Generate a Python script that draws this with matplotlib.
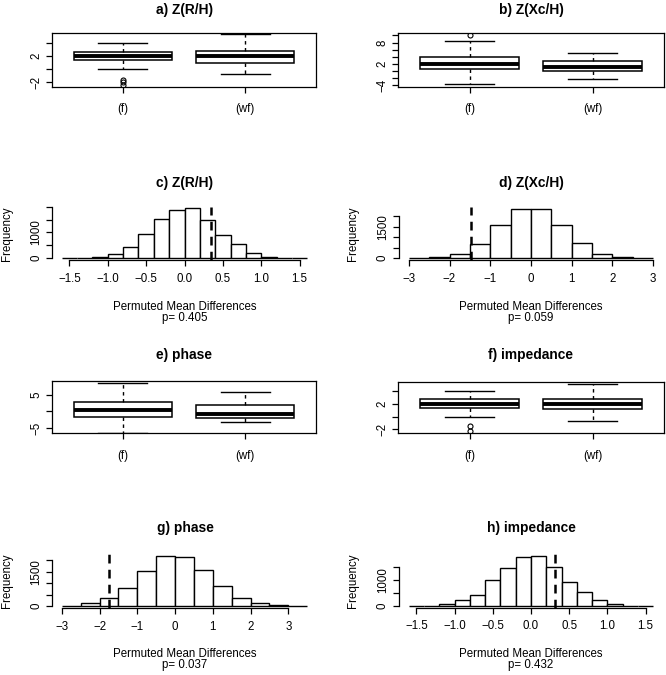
import matplotlib
matplotlib.use('Agg')
import matplotlib.pyplot as plt

plt.rcParams['font.family'] = ['Liberation Sans', 'DejaVu Sans']

W, H = 666, 675
DPI = 100
fig = plt.figure(figsize=(W / DPI, H / DPI), dpi=DPI)

# ---------------- data ----------------
groups = ['(f)', '(wf)']

# box statistics: [lower whisker, Q1, median, Q3, upper whisker]
a_f = [0.0, 1.45, 2.0, 2.6, 3.95]
a_f_out = [-1.6, -1.9, -2.4]
a_wf = [-0.67, 0.97, 2.0, 2.77, 5.35]
a_wf_out = []

b_f = [-3.7, 0.5, 1.9, 3.9, 8.5]
b_f_out = [10.1]
b_wf = [-2.3, 0.0, 1.25, 2.75, 5.2]
b_wf_out = []

e_f = [-6.4, -1.6, 0.4, 2.8, 8.6]
e_f_out = []
e_wf = [-3.3, -2.0, -0.9, 2.0, 5.9]
e_wf_out = []

f_f = [0.0, 1.34, 2.0, 2.76, 4.0]
f_f_out = [-1.5, -2.35]
f_wf = [-0.68, 1.14, 1.95, 2.76, 5.2]
f_wf_out = []

# permutation histograms
c_breaks = [-1.6, -1.4, -1.2, -1.0, -0.8, -0.6, -0.4, -0.2, 0.0, 0.2, 0.4, 0.6, 0.8, 1.0, 1.2, 1.4, 1.6]
c_counts = [0, 0, 50, 170, 430, 960, 1510, 1880, 1940, 1490, 920, 530, 200, 40, 0, 0]
c_obs = 0.34
c_p = '0.405'

d_breaks = [-3.0, -2.5, -2.0, -1.5, -1.0, -0.5, 0.0, 0.5, 1.0, 1.5, 2.0, 2.5, 3.0]
d_counts = [0, 50, 200, 680, 1560, 2320, 2320, 1600, 710, 200, 50, 0]
d_obs = -1.48
d_p = '0.059'

g_breaks = [-3.0, -2.5, -2.0, -1.5, -1.0, -0.5, 0.0, 0.5, 1.0, 1.5, 2.0, 2.5, 3.0, 3.5]
g_counts = [20, 115, 360, 810, 1550, 2190, 2145, 1590, 870, 360, 115, 30, 0]
g_obs = -1.76
g_p = '0.037'

h_breaks = [-1.6, -1.4, -1.2, -1.0, -0.8, -0.6, -0.4, -0.2, 0.0, 0.2, 0.4, 0.6, 0.8, 1.0, 1.2, 1.4, 1.6]
h_counts = [0, 0, 50, 205, 420, 970, 1450, 1870, 1910, 1490, 910, 510, 205, 50, 0, 0]
h_obs = 0.32
h_p = '0.432'

small_ticks = [-1.5, -1.0, -0.5, 0.0, 0.5, 1.0, 1.5]
small_labels = ['\u22121.5', '\u22121.0', '\u22120.5', '0.0', '0.5', '1.0', '1.5']
wide_ticks = [-3, -2, -1, 0, 1, 2, 3]
wide_labels = ['\u22123', '\u22122', '\u22121', '0', '1', '2', '3']

TXT = 8.3
TTL = 9.9
LW = 0.9


def rect(x0, y0, x1, y1):
    return [x0 / W, 1 - y1 / H, (x1 - x0) / W, (y1 - y0) / H]


def ftext(x, y, s, **kw):
    fig.text(x / W, 1 - y / H, s, ha='center', va='center', **kw)


def stats_of(v, out):
    return dict(whislo=v[0], q1=v[1], med=v[2], q3=v[3], whishi=v[4], fliers=out)


def box_panel(px, ylim, yticks, ylabels, s1, o1, s2, o2, title, tx, ty):
    ax = fig.add_axes(rect(*px))
    ax.bxp([stats_of(s1, o1), stats_of(s2, o2)], positions=[1, 2], widths=0.8,
           capwidths=0.4, patch_artist=True,
           boxprops=dict(facecolor='white', edgecolor='black', linewidth=1.1),
           medianprops=dict(color='black', linewidth=2.8, solid_capstyle='butt'),
           whiskerprops=dict(color='black', linewidth=1.0, linestyle=(0, (2.5, 2.5))),
           capprops=dict(color='black', linewidth=1.0),
           flierprops=dict(marker='o', markersize=3.6, markerfacecolor='none',
                           markeredgecolor='black', markeredgewidth=0.8))
    ax.set_xlim(0.42, 2.58)
    ax.set_ylim(*ylim)
    ax.set_yticks(yticks)
    ax.set_yticklabels(ylabels, rotation=90, va='center')
    ax.set_xticks([1, 2])
    ax.set_xticklabels(groups)
    ax.tick_params(axis='both', direction='out', length=4.2, width=LW, labelsize=TXT, color='black')
    ax.tick_params(axis='x', pad=7.5)
    ax.tick_params(axis='y', pad=3.0)
    for sp in ax.spines.values():
        sp.set_linewidth(LW)
    ftext(tx, ty, title, fontsize=TTL, fontweight='bold')
    return ax


def hist_panel(px, breaks, counts, obs, xticks, xlabels, yticks, ylabels, title, tx, ty, pval, ly, fx):
    ax = fig.add_axes(rect(*px))
    lefts = breaks[:-1]
    widths = [b - a for a, b in zip(breaks[:-1], breaks[1:])]
    ax.bar(lefts, counts, width=widths, align='edge', facecolor='white',
           edgecolor='black', linewidth=1.0)
    m = max(counts)
    ax.set_ylim(-0.04 * m, 1.04 * m)
    span = breaks[-1] - breaks[0]
    ax.set_xlim(breaks[0] - 0.04 * span, breaks[-1] + 0.04 * span)
    ax.axvline(obs, color='black', linewidth=1.8, linestyle=(0, (3.5, 2.5)))
    ax.spines['top'].set_visible(False)
    ax.spines['right'].set_visible(False)
    ax.spines['left'].set_bounds(yticks[0], yticks[-1])
    ax.spines['bottom'].set_bounds(xticks[0], xticks[-1])
    for sp in ax.spines.values():
        sp.set_linewidth(LW)
    ax.set_xticks(xticks)
    ax.set_xticklabels(xlabels)
    ax.set_yticks(yticks)
    ax.set_yticklabels(ylabels, rotation=90, va='center')
    ax.tick_params(axis='both', direction='out', length=4.2, width=LW, labelsize=TXT)
    ax.tick_params(axis='x', pad=5.0)
    ax.tick_params(axis='y', pad=3.0)
    ftext(tx, ty, title, fontsize=TTL, fontweight='bold')
    cx = (px[0] + px[2]) / 2
    ftext(cx, ly, 'Permuted Mean Differences', fontsize=TXT)
    ftext(cx, ly + 11, 'p= ' + pval, fontsize=TXT)
    fig.text(fx / W, 1 - ((px[1] + px[3]) / 2) / H, 'Frequency', rotation=90,
             ha='center', va='center', fontsize=TXT)
    return ax


# a) and b)
box_panel((52, 33.3, 316, 86.7), (-2.67, 5.44), [-2, 0, 2, 4], ['\u22122', '', '2', ''],
          a_f, a_f_out, a_wf, a_wf_out, 'a) Z(R/H)', 185, 10)
box_panel((398.3, 33.3, 664, 86.7), (-4.4, 10.6), [-4, -2, 0, 2, 4, 6, 8, 10],
          ['\u22124', '', '', '2', '', '', '8', ''],
          b_f, b_f_out, b_wf, b_wf_out, 'b) Z(Xc/H)', 531, 10)

# c) and d)
hist_panel((52, 206.5, 317, 260), c_breaks, c_counts, c_obs, small_ticks, small_labels,
           [0, 500, 1000, 1500, 2000], ['0', '', '1000', '', ''],
           'c) Z(R/H)', 185, 183, c_p, 307, 7)
hist_panel((399, 207.5, 663, 260), d_breaks, d_counts, d_obs, wide_ticks, wide_labels,
           [0, 500, 1000, 1500, 2000], ['0', '', '', '1500', ''],
           'd) Z(Xc/H)', 531, 183, d_p, 307, 353)

# e) and f)
box_panel((52, 381, 316, 433.3), (-6.6, 9.1), [-5, 0, 5], ['\u22125', '', '5'],
          e_f, e_f_out, e_wf, e_wf_out, 'e) phase', 184, 355)
box_panel((398.3, 382.3, 664, 433.3), (-2.66, 5.44), [-2, 0, 2, 4], ['\u22122', '', '2', ''],
          f_f, f_f_out, f_wf, f_wf_out, 'f) impedance', 531, 355)

# g) and h)
hist_panel((52, 554, 317, 608), g_breaks, g_counts, g_obs, wide_ticks, wide_labels,
           [0, 500, 1000, 1500, 2000], ['0', '', '', '1500', ''],
           'g) phase', 185, 528, g_p, 654, 7)
hist_panel((399, 554, 663, 607.5), h_breaks, h_counts, h_obs, small_ticks, small_labels,
           [0, 500, 1000, 1500], ['0', '', '1000', ''],
           'h) impedance', 531, 528, h_p, 654, 353)

fig.savefig('out.png', dpi=DPI)
